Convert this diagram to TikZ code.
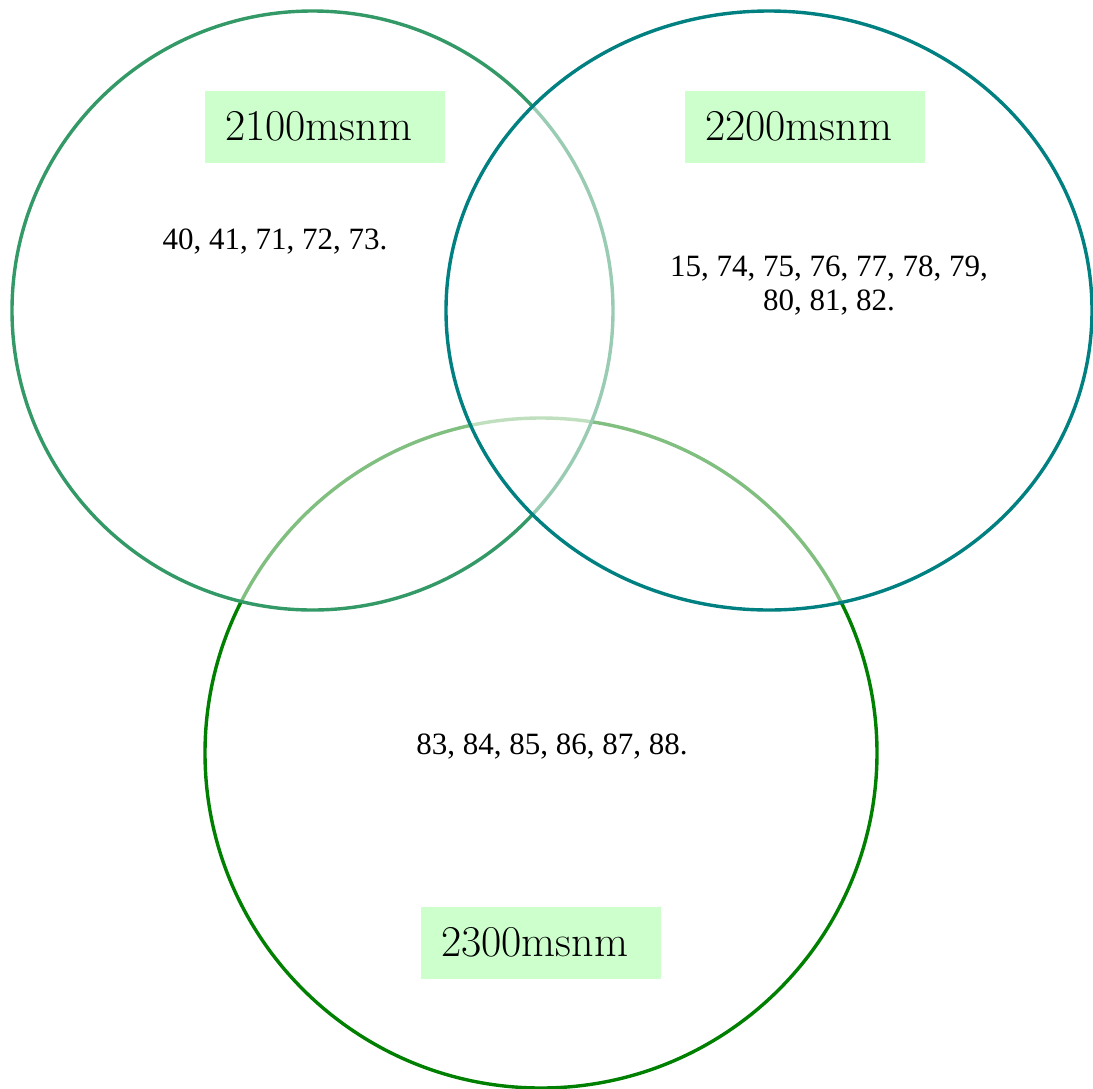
\documentclass[tikz,border=0pt]{standalone}
\usepackage{fontspec}
\setmainfont{Liberation Serif}
\newfontfamily\labelfont{Latin Modern Roman}
\definecolor{setA}{HTML}{339966}
\definecolor{setB}{HTML}{008080}
\definecolor{setC}{HTML}{008000}
\definecolor{tagbg}{HTML}{CCFFCC}
\begin{document}
\begin{tikzpicture}[x=1pt,y=-1pt,
  setring/.style={line width=3.4pt, fill=white, fill opacity=0.5, draw opacity=1},
  tag/.style={fill=tagbg, minimum width=240pt, minimum height=72pt, inner sep=0pt},
  tagtext/.style={font=\labelfont\fontsize{44}{44}\selectfont, anchor=west, inner sep=0pt},
  members/.style={font=\fontsize{31}{34}\selectfont, align=center, inner sep=0pt}]
\useasboundingbox (0,0) rectangle (1093,1088);
% three overlapping sets, drawn bottom to top
\draw[setring, draw=setC] (541,753) ellipse [x radius=336, y radius=335];
\draw[setring, draw=setA] (312.5,310.5) ellipse [x radius=300.5, y radius=299.5];
\draw[setring, draw=setB] (769,310.5) ellipse [x radius=323, y radius=299.5];
% set titles
\node[tag] (tA) at (325,127) {};
\node[tag] (tB) at (805,127) {};
\node[tag] (tC) at (541,943) {};
\node[tagtext] (lA) at (225,126) {2100msnm};
\node[tagtext] (lB) at (705,126) {2200msnm};
\node[tagtext] (lC) at (441,942) {2300msnm};
% members of each set
\node[members] (mA) at (275,242) {40, 41, 71, 72, 73.};
\node[members] (mB) at (829,286) {15, 74, 75, 76, 77, 78, 79,\\80, 81, 82.};
\node[members] (mC) at (552,747) {83, 84, 85, 86, 87, 88.};
\end{tikzpicture}
\end{document}
